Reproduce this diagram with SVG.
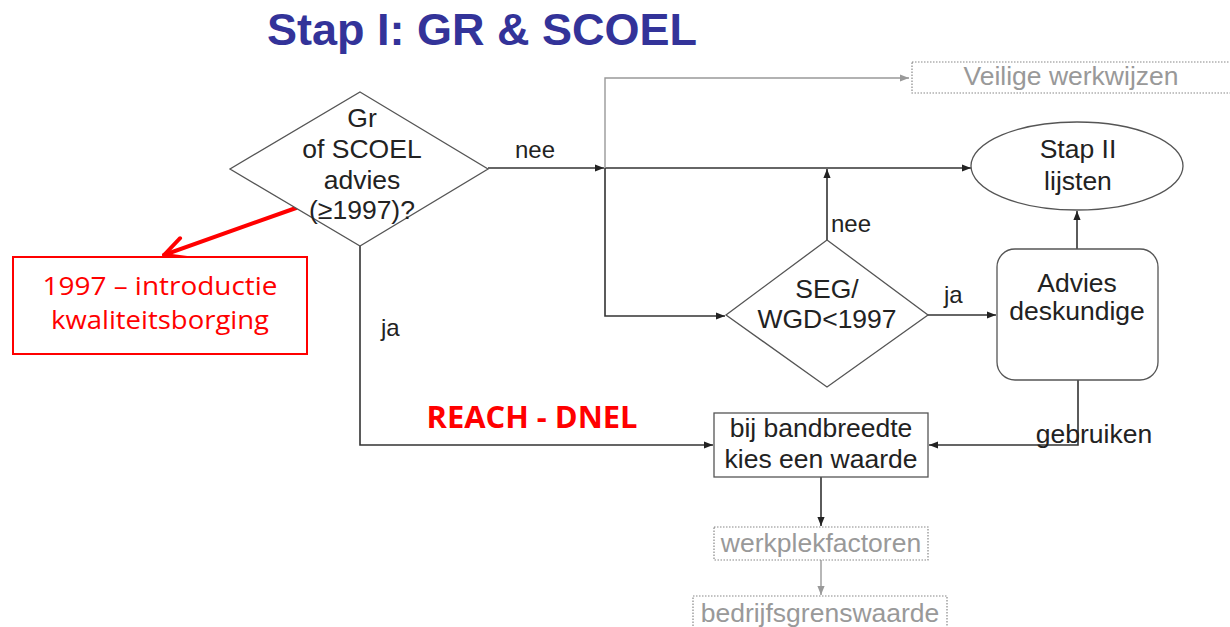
<svg xmlns="http://www.w3.org/2000/svg" width="1230" height="627" viewBox="0 0 1230 627">
<style>
.t{font-family:"Liberation Sans",Arial,sans-serif;font-size:26.5px;fill:#222;text-anchor:middle}
.g{font-family:"Liberation Sans",Arial,sans-serif;font-size:26.5px;fill:#999;text-anchor:middle}
.lbl{font-family:"Liberation Sans",Arial,sans-serif;font-size:24px;fill:#222}
.shape{fill:#fff;stroke:#555;stroke-width:1.3}
.dot{fill:#fff;stroke:#888;stroke-width:1.2;stroke-dasharray:1.5 1.5}
.c{fill:none;stroke:#333;stroke-width:1.6}
.cg{fill:none;stroke:#999;stroke-width:1.4}
.red{font-family:"Open Sans","Liberation Sans",sans-serif;fill:#f00;text-anchor:middle}
</style>
<defs>
<marker id="ab" viewBox="0 0 10 10" refX="10" refY="5" markerWidth="9" markerHeight="9" markerUnits="userSpaceOnUse" orient="auto"><path d="M0,1 L10,5 L0,9 Z" fill="#222"/></marker>
<marker id="ag" viewBox="0 0 10 10" refX="10" refY="5" markerWidth="9" markerHeight="9" markerUnits="userSpaceOnUse" orient="auto"><path d="M0,1 L10,5 L0,9 Z" fill="#999"/></marker>
<marker id="ar" viewBox="0 0 20 20" refX="19" refY="10" markerWidth="26" markerHeight="26" markerUnits="userSpaceOnUse" orient="auto"><path d="M3,2 L19,10 L3,18" fill="none" stroke="#f00" stroke-width="3" stroke-linecap="round" stroke-linejoin="round"/></marker>
</defs>
<rect width="1230" height="627" fill="#fff"/>
<text x="482" y="45" font-family="Liberation Sans,Arial,sans-serif" font-weight="bold" font-size="45" fill="#333399" text-anchor="middle">Stap I: GR &amp; SCOEL</text>

<g id="connectors">
<path class="c" d="M488,168 L604,168" marker-end="url(#ab)"/>
<path class="c" d="M605,168 L971,168" marker-end="url(#ab)"/>
<path class="cg" d="M605,168 V78 H909" marker-end="url(#ag)"/>
<path class="c" d="M605,168 V316 H725" marker-end="url(#ab)"/>
<path class="c" d="M928,315 H996" marker-end="url(#ab)"/>
<path class="c" d="M827,241 V169" marker-end="url(#ab)"/>
<path class="c" d="M1077,249 V211" marker-end="url(#ab)"/>
<path class="c" d="M1078,380 V445 H929" marker-end="url(#ab)"/>
<path class="c" d="M360,246 V445 H713" marker-end="url(#ab)"/>
<path class="c" d="M821,477 V526" marker-end="url(#ab)"/>
<path class="cg" d="M821,560 V595" marker-end="url(#ag)"/>
<path d="M296,208 L164,255" fill="none" stroke="#f00" stroke-width="4" stroke-linecap="round" marker-end="url(#ar)"/>
<text class="lbl" x="515" y="158">nee</text>
<text class="lbl" x="831" y="232">nee</text>
<text class="lbl" x="381" y="336">ja</text>
<text class="lbl" x="944" y="303">ja</text>
<text class="t" x="1094" y="443">gebruiken</text>
</g>

<g id="d1">
<polygon class="shape" points="360,92 488,169 360,246 230,169"/>
<text class="t" x="362" y="127">Gr</text>
<text class="t" x="362" y="158">of SCOEL</text>
<text class="t" x="362" y="189">advies</text>
<text class="t" x="362" y="219">(≥1997)?</text>
</g>

<g id="veilig">
<rect class="dot" x="912" y="62" width="330" height="31"/>
<text class="g" x="1071" y="85">Veilige werkwijzen</text>
</g>

<g id="stap2">
<ellipse class="shape" cx="1077" cy="166" rx="106" ry="44"/>
<text class="t" x="1078" y="158">Stap II</text>
<text class="t" x="1078" y="190">lijsten</text>
</g>

<g id="d2">
<polygon class="shape" points="827,240 928,315 827,387 726,315"/>
<text class="t" x="827" y="298">SEG/</text>
<text class="t" x="827" y="328">WGD&lt;1997</text>
</g>

<g id="advies">
<rect class="shape" x="997" y="249" width="161" height="131" rx="18"/>
<text class="t" x="1077" y="292">Advies</text>
<text class="t" x="1077" y="320">deskundige</text>
</g>

<g id="bij">
<rect class="shape" x="714" y="413" width="214" height="64"/>
<text class="t" x="821" y="437">bij bandbreedte</text>
<text class="t" x="821" y="468">kies een waarde</text>
</g>

<g id="werkplek">
<rect class="dot" x="714" y="527" width="214" height="33"/>
<text class="g" x="821" y="552">werkplekfactoren</text>
</g>

<g id="bedrijf">
<rect class="dot" x="693" y="596" width="254" height="40"/>
<text class="g" x="820" y="622">bedrijfsgrenswaarde</text>
</g>

<g id="reach">
<text class="red" x="532" y="428" font-size="31" font-weight="bold" textLength="211" lengthAdjust="spacingAndGlyphs">REACH - DNEL</text>
</g>

<g id="note">
<rect x="13" y="257" width="294" height="97" fill="#fff" stroke="#f00" stroke-width="2"/>
<text class="red" x="160" y="295" font-size="25" textLength="235" lengthAdjust="spacingAndGlyphs">1997 – introductie</text>
<text class="red" x="160" y="329" font-size="25" textLength="218" lengthAdjust="spacingAndGlyphs">kwaliteitsborging</text>
</g>
</svg>
